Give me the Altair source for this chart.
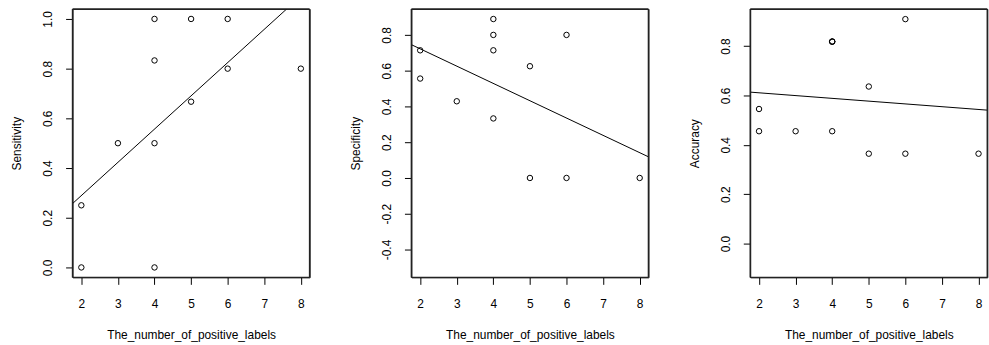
import altair as alt
import numpy as np
import pandas as pd

# data
n_pos = [2, 2, 3, 4, 4, 4, 4, 5, 5, 6, 6, 8]
sensitivity = [0.25, 0.0, 0.5, 1.0, 0.833, 0.5, 0.0, 1.0, 0.667, 1.0, 0.8, 0.8]
specificity = [0.714, 0.556, 0.429, 0.889, 0.8, 0.714, 0.333, 0.625, 0.0, 0.8, 0.0, 0.0]
accuracy = [0.545, 0.455, 0.455, 0.818, 0.818, 0.818, 0.455, 0.636, 0.364, 0.909, 0.364, 0.364]

x_ticks = [2, 3, 4, 5, 6, 7, 8]
x_dom = [1.76, 8.24]

panels = [
    ("Sensitivity", sensitivity, [-0.04, 1.04], [0.0, 0.2, 0.4, 0.6, 0.8, 1.0]),
    ("Specificity", specificity, [-0.556, 0.945], [-0.4, -0.2, 0.0, 0.2, 0.4, 0.6, 0.8]),
    ("Accuracy", accuracy, [-0.137, 0.950], [0.0, 0.2, 0.4, 0.6, 0.8]),
]

W, H = 238.5, 270
FONT = "Liberation Sans"

def make_panel(name, vals, ydom, yticks):
    df = pd.DataFrame({"x": n_pos, "y": vals})
    slope, intercept = np.polyfit(n_pos, vals, 1)
    ldf = pd.DataFrame({"x": x_dom, "y": [intercept + slope * v for v in x_dom]})
    x0, x1 = x_dom
    y0, y1 = ydom
    edges = pd.DataFrame({
        "x": [x0, x0, x0, x1],
        "x2": [x1, x1, x0, x1],
        "y": [y0, y1, y0, y0],
        "y2": [y0, y1, y1, y1],
    })
    xenc = alt.X("x:Q", scale=alt.Scale(domain=x_dom, nice=False, zero=False),
                 axis=alt.Axis(values=x_ticks, format="d", grid=False, domain=False,
                               labelOverlap=False,
                               tickSize=7, tickColor="black", tickWidth=1,
                               labelFont=FONT, labelFontSize=12, labelColor="black",
                               labelBaseline="middle", labelPadding=19,
                               title="The_number_of_positive_labels",
                               titleFont=FONT, titleFontSize=12, titleFontWeight="normal",
                               titleColor="black", titleX=W / 2, titleY=57,
                               titleBaseline="middle", titleAlign="center"))
    yenc = alt.Y("y:Q", scale=alt.Scale(domain=ydom, nice=False, zero=False),
                 axis=alt.Axis(values=yticks, grid=False, domain=False,
                               labelExpr="replace(format(datum.value, '.1f'), '\u2212', '-')",
                               labelOverlap=False,
                               tickSize=7, tickColor="black", tickWidth=1,
                               labelFont=FONT, labelFontSize=12, labelColor="black",
                               labelAngle=270, labelAlign="center", labelBaseline="middle",
                               labelPadding=18, title=name,
                               titleFont=FONT, titleFontSize=12, titleFontWeight="normal",
                               titleColor="black", titleAngle=270, titleX=-56, titleY=H / 2,
                               titleBaseline="middle", titleAlign="center"))
    frame = alt.Chart(edges).mark_rule(color="#222222", strokeWidth=1.5).encode(
        x2="x2:Q", y2="y2:Q")
    pts = alt.Chart(df).mark_point(shape="circle", filled=False, color="black",
                                   size=30, strokeWidth=1, opacity=1)
    line = alt.Chart(ldf).mark_line(color="black", strokeWidth=1, clip=True)
    return alt.layer(pts, line, frame).encode(x=xenc, y=yenc).properties(width=W, height=H)

charts = [make_panel(*p) for p in panels]

chart = alt.hconcat(*charts, spacing=101.9, bounds="flush").properties(
    padding={"left": 10, "top": 6, "right": 0, "bottom": 8}
).configure(background="white").configure_view(stroke="#222222", strokeWidth=1)

chart.save("out.html", embed_options={"renderer": "svg", "actions": False})
